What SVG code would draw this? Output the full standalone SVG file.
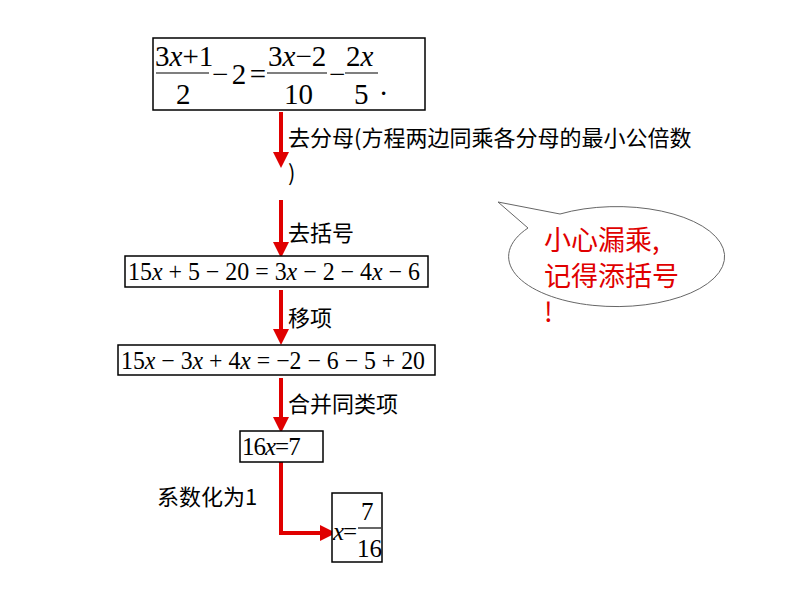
<svg xmlns="http://www.w3.org/2000/svg" width="794" height="596" viewBox="0 0 794 596">
<style>
.box{fill:#fff;stroke:#000;stroke-width:1.5}
.m{font-family:"Liberation Serif",serif;font-size:25px;fill:#000}
.b{font-size:29px}
.i{font-style:italic}
.lb{font-family:"Noto Sans CJK SC",sans-serif;font-size:22px;fill:#000}
.c{stroke:#e00000;stroke-width:4;fill:none}
.r{font-family:"Noto Sans CJK SC",sans-serif;font-size:27px;fill:#e00000}
</style>
<defs><marker id="a" markerWidth="4" markerHeight="4" refX="2" refY="2" orient="auto" markerUnits="strokeWidth"><path d="M0,0L4,2L0,4z" fill="#e00000"/></marker></defs>
<rect width="794" height="596" fill="#fff"/>
<g id="connectors">
<path class="c" d="M281,112V160" marker-end="url(#a)"/>
<path class="c" d="M281,200V250" marker-end="url(#a)"/>
<path class="c" d="M281,290V337" marker-end="url(#a)"/>
<path class="c" d="M281,378V425" marker-end="url(#a)"/>
<path class="c" d="M281,462V533H328" marker-end="url(#a)"/>
</g>
<g id="n1"><rect class="box" x="153" y="38" width="272" height="72"/>
<text class="m b" x="155" y="66">3<tspan class="i">x</tspan>+1</text><line x1="156" y1="73" x2="209" y2="73" stroke="#000" stroke-width="1.2"/><text class="m b" x="176" y="104">2</text>
<text class="m b" x="212" y="84" textLength="54" lengthAdjust="spacing">−2=</text>
<text class="m b" x="268" y="66">3<tspan class="i">x</tspan>−2</text><line x1="267" y1="73" x2="327" y2="73" stroke="#000" stroke-width="1.2"/><text class="m b" x="284" y="104">10</text>
<text class="m b" x="329" y="84">−</text>
<text class="m b" x="346" y="66">2<tspan class="i">x</tspan></text><line x1="345" y1="73" x2="378" y2="73" stroke="#000" stroke-width="1.2"/><text class="m b" x="354" y="104">5</text>
<text class="m b" x="380" y="95">.</text></g>
<text class="lb" x="288" y="146">去分母(方程两边同乘各分母的最小公倍数</text>
<text class="lb" x="288" y="181">)</text>
<text class="lb" x="288" y="241">去括号</text>
<g id="n2"><rect class="box" x="125" y="256" width="303" height="31"/>
<text class="m" x="128" y="280" textLength="292" lengthAdjust="spacingAndGlyphs">15<tspan class="i">x</tspan> + 5 − 20 = 3<tspan class="i">x</tspan> − 2 − 4<tspan class="i">x</tspan> − 6</text></g>
<text class="lb" x="288" y="326">移项</text>
<g id="n3"><rect class="box" x="118" y="345" width="317" height="30"/>
<text class="m" x="121" y="369" textLength="304" lengthAdjust="spacingAndGlyphs">15<tspan class="i">x</tspan> − 3<tspan class="i">x</tspan> + 4<tspan class="i">x</tspan> = −2 − 6 − 5 + 20</text></g>
<text class="lb" x="288" y="412">合并同类项</text>
<g id="n4"><rect class="box" x="240" y="431" width="83" height="31"/>
<text class="m" x="242" y="455" letter-spacing="-1">16<tspan class="i">x</tspan>=7</text></g>
<text class="lb" x="157" y="505">系数化为1</text>
<g id="n5"><rect class="box" x="332" y="493" width="50" height="69"/>
<text class="m i" x="333" y="540">x</text><text class="m" x="343" y="540">=</text>
<text class="m" x="361" y="520">7</text><line x1="358" y1="528" x2="381" y2="528" stroke="#000" stroke-width="1.2"/><text class="m" x="357" y="557">16</text></g>
<g id="callout">
<path d="M498,202L560,214A108,50 0 1 1 528,228Z" fill="#fff" stroke="#666" stroke-width="1"/>
<text class="r" x="544" y="250">小心漏乘,</text>
<text class="r" x="544" y="286">记得添括号</text>
<text class="r" x="544" y="322">!</text>
</g>
</svg>
